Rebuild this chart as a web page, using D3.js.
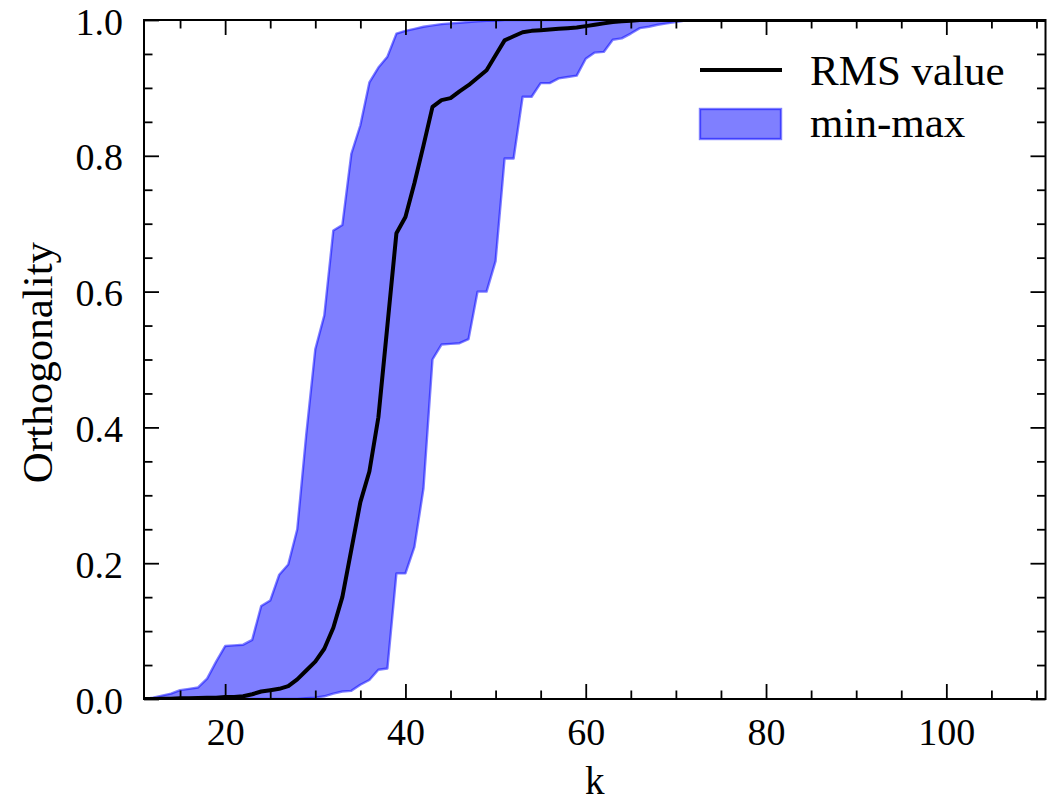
<!DOCTYPE html>
<html>
<head>
<meta charset="utf-8">
<script src="https://cdn.jsdelivr.net/npm/d3@7"></script>
<style>
  html, body { margin: 0; padding: 0; background: #fff; }
  svg { display: block; }
</style>
</head>
<body>
<svg id="chart" width="1049" height="803"></svg>
<script>
// Orthogonality against k: RMS value with the min-max envelope
const kValues = [
  11, 12, 13, 14, 15, 16, 17, 18, 19, 20,
  21, 22, 23, 24, 25, 26, 27, 28, 29, 30,
  31, 32, 33, 34, 35, 36, 37, 38, 39, 40,
  41, 42, 43, 44, 45, 46, 47, 48, 49, 50,
  51, 52, 53, 54, 55, 56, 57, 58, 59, 60,
  61, 62, 63, 64, 65, 66, 67, 68, 69, 70,
  71, 72, 111
];
const rmsValues = [
  0, 0, 0.0003, 0.0005, 0.001, 0.001, 0.0015, 0.002, 0.002, 0.003,
  0.003, 0.004, 0.007, 0.011, 0.013, 0.015, 0.019, 0.029, 0.042, 0.055,
  0.074, 0.105, 0.150, 0.220, 0.290, 0.335, 0.415, 0.550, 0.686, 0.710,
  0.760, 0.815, 0.872, 0.882, 0.885, 0.895, 0.904, 0.915, 0.926, 0.948,
  0.970, 0.976, 0.982, 0.984, 0.985, 0.986, 0.987, 0.988, 0.989, 0.991,
  0.993, 0.995, 0.997, 0.998, 0.999, 1, 1, 1, 1, 1,
  1, 1, 1
];
const minValues = [
  0, 0, 0, 0, 0, 0, 0, 0, 0, 0,
  0, 0, 0, 0, 0, 0, 0, 0, 0.001, 0.002,
  0.004, 0.008, 0.011, 0.012, 0.021, 0.028, 0.043, 0.045, 0.185, 0.185,
  0.224, 0.310, 0.500, 0.522, 0.523, 0.524, 0.530, 0.600, 0.600, 0.645,
  0.796, 0.796, 0.887, 0.887, 0.907, 0.907, 0.914, 0.916, 0.918, 0.943,
  0.952, 0.953, 0.971, 0.973, 0.980, 0.988, 0.990, 0.993, 0.995, 0.997,
  0.999, 1, 1
];
const maxValues = [
  0, 0.002, 0.005, 0.008, 0.013, 0.015, 0.017, 0.030, 0.055, 0.078,
  0.079, 0.080, 0.087, 0.137, 0.145, 0.183, 0.198, 0.250, 0.390, 0.515,
  0.565, 0.690, 0.698, 0.803, 0.845, 0.908, 0.930, 0.946, 0.980, 0.984,
  0.987, 0.990, 0.992, 0.994, 0.995, 0.996, 0.997, 0.998, 0.999, 0.999,
  1, 1, 1, 1, 1, 1, 1, 1, 1, 1,
  1, 1, 1, 1, 1, 1, 1, 1, 1, 1,
  1, 1, 1
];
const xMajorTicks = [20, 40, 60, 80, 100];
const xMinorTicks = [15, 25, 30, 35, 45, 50, 55, 65, 70, 75, 85, 90, 95, 105, 110];
const yMajorTicks = [0, 0.2, 0.4, 0.6, 0.8, 1.0];
const yMinorTicks = [0.05, 0.1, 0.15, 0.25, 0.3, 0.35, 0.45, 0.5, 0.55, 0.65, 0.7, 0.75, 0.85, 0.9, 0.95];
const seriesNames = ["RMS value", "min-max"];
const xTitle = "k";
const yTitle = "Orthogonality";

const FONT = "'Liberation Serif', 'DejaVu Serif', serif";
const TICK_FS = 38;
const LABEL_FS = 43;
const XTITLE_FS = 39;
const plot = { left: 144, right: 1045.5, top: 20, bottom: 699 };
const MAJOR = 15, MINOR = 8.5;
const LINE_W = 4;

const x = d3.scaleLinear().domain([11, 111]).range([plot.left, plot.right]);
const y = d3.scaleLinear().domain([0, 1]).range([plot.bottom, plot.top]);

const svg = d3.select("#chart");

svg.append("defs").append("clipPath").attr("id", "plot-area")
  .append("rect")
  .attr("x", plot.left).attr("y", plot.top)
  .attr("width", plot.right - plot.left).attr("height", plot.bottom - plot.top);

const rows = kValues.map((k, i) => ({ k, rms: rmsValues[i], lo: minValues[i], hi: maxValues[i] }));

const data = svg.append("g").attr("clip-path", "url(#plot-area)");

// min-max band
data.append("path")
  .attr("d", d3.area().x(d => x(d.k)).y0(d => y(d.lo)).y1(d => y(d.hi))(rows))
  .attr("fill", "blue").attr("fill-opacity", 0.5)
  .attr("stroke", "blue").attr("stroke-opacity", 0.5)
  .attr("stroke-width", 2.4).attr("stroke-linejoin", "round");

// RMS curve
data.append("path")
  .attr("d", d3.line().x(d => x(d.k)).y(d => y(d.rms))(rows))
  .attr("fill", "none").attr("stroke", "#000")
  .attr("stroke-width", LINE_W).attr("stroke-linejoin", "round").attr("stroke-linecap", "butt");

// inward ticks on all four sides
function tickAxis(gen, scale, values, size, tx, ty, fmt, pad) {
  const a = gen(scale).tickValues(values).tickSize(-size).tickPadding(pad || 0)
    .tickFormat(fmt || (() => ""));
  const g = svg.append("g").attr("transform", `translate(${tx},${ty})`).call(a);
  g.select(".domain").remove();
  return g;
}
const fmt1 = d3.format(".1f");
const fmt0 = d3.format("d");

tickAxis(d3.axisBottom, x, xMajorTicks, MAJOR, 0, plot.bottom, fmt0, 19);
tickAxis(d3.axisBottom, x, xMinorTicks, MINOR, 0, plot.bottom);
tickAxis(d3.axisTop, x, xMajorTicks, MAJOR, 0, plot.top);
tickAxis(d3.axisTop, x, xMinorTicks, MINOR, 0, plot.top);
const yLeft = tickAxis(d3.axisLeft, y, yMajorTicks, MAJOR, plot.left, 0, fmt1, 21);
tickAxis(d3.axisLeft, y, yMinorTicks, MINOR, plot.left, 0);
tickAxis(d3.axisRight, y, yMajorTicks, MAJOR, plot.right, 0);
tickAxis(d3.axisRight, y, yMinorTicks, MINOR, plot.right, 0);

svg.selectAll(".tick line").attr("stroke", "#000").attr("stroke-width", 1.8);
svg.selectAll(".tick text").attr("font-family", FONT).attr("font-size", TICK_FS).attr("fill", "#000");
yLeft.selectAll(".tick text").attr("dy", "0.37em");

// frame
svg.append("rect")
  .attr("x", plot.left).attr("y", plot.top)
  .attr("width", plot.right - plot.left).attr("height", plot.bottom - plot.top)
  .attr("fill", "none").attr("stroke", "#000").attr("stroke-width", 2);

// axis titles
svg.append("text")
  .attr("x", (plot.left + plot.right) / 2).attr("y", 794)
  .attr("text-anchor", "middle")
  .attr("font-family", FONT).attr("font-size", XTITLE_FS)
  .text(xTitle);

svg.append("text")
  .attr("transform", `translate(52,${(plot.top + plot.bottom) / 2 + 3}) rotate(-90)`)
  .attr("text-anchor", "middle")
  .attr("font-family", FONT).attr("font-size", LABEL_FS)
  .text(yTitle);

// legend
const legend = svg.append("g");
legend.append("line")
  .attr("x1", 700).attr("x2", 782).attr("y1", 70).attr("y2", 70)
  .attr("stroke", "#000").attr("stroke-width", LINE_W);
legend.append("text")
  .attr("x", 810).attr("y", 85)
  .attr("font-family", FONT).attr("font-size", LABEL_FS)
  .text(seriesNames[0]);
legend.append("rect")
  .attr("x", 700).attr("y", 109).attr("width", 81).attr("height", 30)
  .attr("fill", "blue").attr("fill-opacity", 0.5)
  .attr("stroke", "blue").attr("stroke-opacity", 0.5).attr("stroke-width", 2.4);
legend.append("text")
  .attr("x", 810).attr("y", 137)
  .attr("font-family", FONT).attr("font-size", LABEL_FS)
  .text(seriesNames[1]);
</script>
</body>
</html>
